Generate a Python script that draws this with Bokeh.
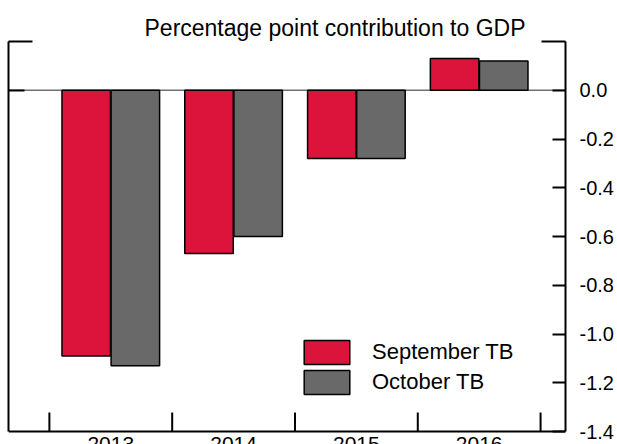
import math
from bokeh.plotting import figure
from bokeh.models import (Range1d, LinearAxis, FixedTicker, Span, LabelSet,
                          ColumnDataSource, Legend, LegendItem)
from bokeh.core.properties import value
from bokeh.transform import dodge
from bokeh.embed import file_html
from bokeh.resources import INLINE

years = ["2013", "2014", "2015", "2016"]
september = [-1.09, -0.67, -0.28, 0.13]
october = [-1.13, -0.60, -0.28, 0.12]
y_ticks = [0.0, -0.2, -0.4, -0.6, -0.8, -1.0, -1.2, -1.4]
y_top_tick = [0.2]
title_text = "Percentage point contribution to GDP"
series_names = ["September TB", "October TB"]

FONT = "Liberation Sans"
RED = "#DC143C"
GREY = "#696969"

idx = list(range(len(years)))
axis_min, axis_max = -1.4, 0.2

# layout: frame from y=41 to the canvas bottom; the drawn axes stop at axis_min
H, TOP = 444, 41
axis_px = 390  # pixels between axis_max and axis_min
frame_px = H - TOP
y_lo = axis_max - (axis_max - axis_min) * frame_px / axis_px

src = ColumnDataSource(dict(x=idx, year=years, sep=september, octo=october,
                            base=[axis_min] * len(years)))

p = figure(width=617, height=H, output_backend="svg", toolbar_location=None,
           x_range=Range1d(-0.833, 3.703), y_range=Range1d(y_lo, axis_max),
           min_border_left=8, min_border_right=52, min_border_top=TOP,
           min_border_bottom=0, x_axis_location=None, y_axis_location=None)
p.outline_line_color = None
p.grid.visible = False
p.background_fill_color = "white"
p.border_fill_color = "white"

p.title.text = title_text
p.title.align = "right"
p.title.offset = 40
p.title.text_font = FONT
p.title.text_font_size = "23px"
p.title.text_font_style = "normal"
p.title.text_color = "black"
p.title.standoff = 2

p.add_layout(Span(location=0, dimension="width", line_color="#707070",
                  line_width=1.5, level="underlay"))

r1 = p.vbar(x=dodge("x", -0.2, range=p.x_range), top="sep", width=0.395, source=src,
            fill_color=RED, line_color="black", line_width=1.5)
r2 = p.vbar(x=dodge("x", 0.2, range=p.x_range), top="octo", width=0.395, source=src,
            fill_color=GREY, line_color="black", line_width=1.5)

# bottom axis line and inward ticks at category boundaries
p.add_layout(Span(location=axis_min, dimension="width", line_color="black",
                  line_width=2))
xb_ticks = [i - 0.5 for i in idx] + [idx[-1] + 0.5]
p.ray(x=xb_ticks, y=[axis_min] * len(xb_ticks), length=19, length_units="screen",
      angle=math.pi / 2, line_color="black", line_width=2)

# left axis
yl = LinearAxis(ticker=FixedTicker(ticks=[0.0], minor_ticks=y_top_tick),
                bounds=(axis_min, axis_max),
                major_tick_in=16, major_tick_out=0, minor_tick_in=24, minor_tick_out=0,
                major_tick_line_width=2, minor_tick_line_width=2,
                axis_line_width=2, major_label_standoff=0,
                major_label_overrides={0.0: ""})
p.add_layout(yl, "left")

# right axis
yr = LinearAxis(ticker=FixedTicker(ticks=y_ticks, minor_ticks=y_top_tick),
                bounds=(axis_min, axis_max),
                major_tick_in=13, major_tick_out=0, minor_tick_in=24, minor_tick_out=0,
                major_tick_line_width=2, minor_tick_line_width=2,
                axis_line_width=2, major_label_standoff=14,
                major_label_overrides={t: f"{t:.1f}" for t in y_ticks},
                major_label_text_font=FONT, major_label_text_font_size="20px",
                major_label_text_color="black")
p.add_layout(yr, "right")

labels = LabelSet(x="x", y="base", text="year", source=src, y_offset=-5,
                  text_align="center", text_baseline="top", text_font=value(FONT),
                  text_font_size=value("21px"), text_color="black")
p.add_layout(labels)

legend = Legend(items=[LegendItem(label=series_names[0], renderers=[r1]),
                       LegendItem(label=series_names[1], renderers=[r2])],
                location=(290, 34 + frame_px - axis_px), padding=0, margin=0, spacing=0,
                glyph_width=57, glyph_height=30, label_standoff=17,
                label_text_font=FONT, label_text_font_size="22px",
                label_text_color="black",
                border_line_color=None, background_fill_alpha=0)
p.add_layout(legend)

open("out.html", "w").write(file_html(p, INLINE))
